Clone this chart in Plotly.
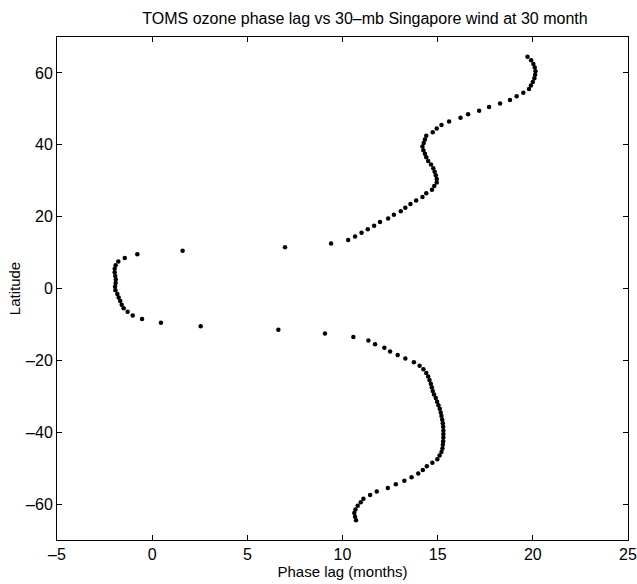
import plotly.graph_objects as go

# Latitudes (degrees), north to south
latitude = [
    64.5, 63.5, 62.5, 61.5, 60.5, 59.5, 58.5, 57.5, 56.5, 55.5,
    54.5, 53.5, 52.5, 51.5, 50.5, 49.5, 48.5, 47.5, 46.5, 45.5,
    44.5, 43.5, 42.5, 41.5, 40.5, 39.5, 38.5, 37.5, 36.5, 35.5,
    34.5, 33.5, 32.5, 31.5, 30.5, 29.5, 28.5, 27.5, 26.5, 25.5,
    24.5, 23.5, 22.5, 21.5, 20.5, 19.5, 18.5, 17.5, 16.5, 15.5,
    14.5, 13.5, 12.5, 11.5, 10.5, 9.5, 8.5, 7.5, 6.5, 5.5,
    4.5, 3.5, 2.5, 1.5, 0.5, -0.5, -1.5, -2.5, -3.5, -4.5,
    -5.5, -6.5, -7.5, -8.5, -9.5, -10.5, -11.5, -12.5, -13.5, -14.5,
    -15.5, -16.5, -17.5, -18.5, -19.5, -20.5, -21.5, -22.5, -23.5, -24.5,
    -25.5, -26.5, -27.5, -28.5, -29.5, -30.5, -31.5, -32.5, -33.5, -34.5,
    -35.5, -36.5, -37.5, -38.5, -39.5, -40.5, -41.5, -42.5, -43.5, -44.5,
    -45.5, -46.5, -47.5, -48.5, -49.5, -50.5, -51.5, -52.5, -53.5, -54.5,
    -55.5, -56.5, -57.5, -58.5, -59.5, -60.5, -61.5, -62.5, -63.5, -64.5,
]

# Phase lag (months)
phase_lag = [
    19.72, 19.91, 20.03, 20.10, 20.14, 20.12, 20.08, 20.00, 19.90, 19.80,
    19.50, 19.15, 18.80, 18.28, 17.70, 17.18, 16.60, 16.20, 15.60, 15.20,
    14.95, 14.74, 14.40, 14.33, 14.27, 14.20, 14.25, 14.33, 14.40, 14.50,
    14.65, 14.77, 14.84, 14.90, 14.95, 14.95, 14.82, 14.70, 14.40, 14.20,
    13.87, 13.57, 13.30, 13.06, 12.70, 12.40, 11.97, 11.66, 11.33, 11.00,
    10.66, 10.30, 9.40, 6.98, 1.60, -0.78, -1.44, -1.78, -1.92, -1.97,
    -1.97, -1.94, -1.91, -1.92, -1.95, -1.93, -1.83, -1.76, -1.68, -1.60,
    -1.50, -1.29, -1.02, -0.53, 0.46, 2.55, 6.63, 9.08, 10.57, 11.36,
    11.71, 12.20, 12.50, 12.90, 13.30, 13.75, 14.05, 14.25, 14.40, 14.50,
    14.57, 14.64, 14.69, 14.74, 14.81, 14.90, 14.97, 15.04, 15.11, 15.16,
    15.20, 15.24, 15.27, 15.29, 15.30, 15.30, 15.30, 15.29, 15.27, 15.25,
    15.20, 15.10, 14.98, 14.72, 14.43, 14.22, 13.98, 13.63, 13.25, 12.80,
    12.38, 11.80, 11.45, 11.10, 10.96, 10.80, 10.68, 10.62, 10.66, 10.71,
]

x_ticks = [-5, 0, 5, 10, 15, 20, 25]
y_ticks = [-60, -40, -20, 0, 20, 40, 60]

FONT = "Liberation Sans, Arial, Helvetica, sans-serif"

fig = go.Figure()
fig.add_trace(go.Scatter(
    x=phase_lag, y=latitude, mode="markers",
    marker=dict(color="black", size=4.5, line=dict(width=0)),
    showlegend=False,
))

axis_common = dict(
    showgrid=False, zeroline=False, showline=True, linecolor="black",
    linewidth=1, mirror="allticks", ticks="inside", ticklen=5,
    tickcolor="black", tickwidth=1, automargin=False,
    tickfont=dict(family=FONT, size=16, color="black"),
)

fig.update_layout(
    width=637, height=584,
    margin=dict(l=57, r=9, t=37, b=44),
    paper_bgcolor="white", plot_bgcolor="white",
    title=dict(
        text="TOMS ozone phase lag vs 30\u2013mb Singapore wind at 30 month",
        x=0.573, xanchor="center", y=0.969, yanchor="middle",
        font=dict(family=FONT, size=16, color="black"),
    ),
    xaxis=dict(
        range=[-5, 25], tickvals=x_ticks,
        ticktext=[("\u2013" + str(-v)) if v < 0 else str(v) for v in x_ticks],
        title=dict(text="Phase lag (months)", standoff=0,
                   font=dict(family=FONT, size=15, color="black")),
        **axis_common,
    ),
    yaxis=dict(
        range=[-70, 70], tickvals=y_ticks,
        ticktext=[("\u2013" + str(-v)) if v < 0 else str(v) for v in y_ticks],
        title=dict(text="Latitude", standoff=1,
                   font=dict(family=FONT, size=15, color="black")),
        **axis_common,
    ),
)

fig.write_html("out.html")
